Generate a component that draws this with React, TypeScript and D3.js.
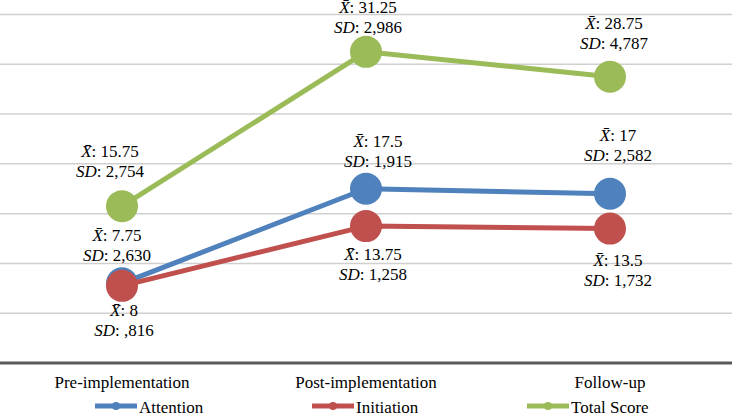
import React, { useEffect, useRef } from 'react';
import * as d3 from 'd3';

const categories = ['Pre-implementation', 'Post-implementation', 'Follow-up'];
const seriesNames = ['Attention', 'Initiation', 'Total Score'];
const attentionMeans = [8, 17.5, 17];
const attentionSDs = [',816', '1,915', '2,582'];
const initiationMeans = [7.75, 13.75, 13.5];
const initiationSDs = ['2,630', '1,258', '1,732'];
const totalMeans = [15.75, 31.25, 28.75];
const totalSDs = ['2,754', '2,986', '4,787'];
const yTicks = [0, 5, 10, 15, 20, 25, 30, 35];

const COLORS = ['#4f81bd', '#c0504d', '#9bbb59'];

// label placement relative to each marker (dx, dy of the first line's baseline)
const labelOffsets = [
  [[2, 33], [12, -42], [8, -53]],
  [[-5, -45], [7, 34], [8, 37]],
  [[-12, -49], [2, -39], [4, -48]],
];

const FONT = "'Liberation Serif', 'Times New Roman', serif";

const App: React.FC = () => {
  const svgRef = useRef<SVGSVGElement>(null);
  const width = 732;
  const height = 414;

  useEffect(() => {
    if (!svgRef.current) return;
    const svg = d3.select(svgRef.current);
    svg.selectAll('*').remove();
    svg.style('font-family', FONT).style('font-size', '17px');

    const means = [attentionMeans, initiationMeans, totalMeans];
    const sds = [attentionSDs, initiationSDs, totalSDs];

    const x = d3.scalePoint<string>()
      .domain(categories)
      .range([0, width])
      .padding(0.5);

    const y = d3.scaleLinear()
      .domain([0, 35])
      .range([363, 14.5]);

    // Grid
    svg.append('g')
      .selectAll('line')
      .data(yTicks.filter(t => t > 0))
      .enter()
      .append('line')
      .attr('x1', 0)
      .attr('x2', width)
      .attr('y1', d => y(d))
      .attr('y2', d => y(d))
      .attr('stroke', '#d0d0d0')
      .attr('stroke-width', 1.5);

    // Baseline axis
    svg.append('line')
      .attr('x1', 0)
      .attr('x2', width)
      .attr('y1', y(0))
      .attr('y2', y(0))
      .attr('stroke', '#595959')
      .attr('stroke-width', 3);

    // Category labels
    svg.append('g')
      .selectAll('text')
      .data(categories)
      .enter()
      .append('text')
      .attr('x', d => x(d) || 0)
      .attr('y', 388)
      .attr('text-anchor', 'middle')
      .attr('fill', '#000')
      .text(d => d);

    // Series
    means.forEach((vals, i) => {
      const pts = categories.map((c, j) => [x(c) || 0, y(vals[j])] as [number, number]);
      svg.append('path')
        .attr('d', d3.line()(pts))
        .attr('fill', 'none')
        .attr('stroke', COLORS[i])
        .attr('stroke-width', 5)
        .attr('stroke-linejoin', 'round');

      svg.append('g')
        .selectAll('circle')
        .data(pts)
        .enter()
        .append('circle')
        .attr('cx', d => d[0])
        .attr('cy', d => d[1])
        .attr('r', 16)
        .attr('fill', COLORS[i]);
    });

    // Data labels
    means.forEach((vals, i) => {
      categories.forEach((c, j) => {
        const [dx, dy] = labelOffsets[i][j];
        const cx = (x(c) || 0) + dx;
        const cy = y(vals[j]) + dy;
        const t = svg.append('text')
          .attr('text-anchor', 'middle')
          .attr('fill', '#000');
        const l1 = t.append('tspan').attr('x', cx).attr('y', cy);
        l1.append('tspan').style('font-style', 'italic').text('X\u0304');
        l1.append('tspan').text(`: ${vals[j]}`);
        const l2 = t.append('tspan').attr('x', cx).attr('y', cy + 20);
        l2.append('tspan').style('font-style', 'italic').text('SD');
        l2.append('tspan').text(`: ${sds[i][j]}`);
      });
    });

    // Legend
    const legendX = [95, 312, 527];
    seriesNames.forEach((name, i) => {
      const g = svg.append('g').attr('transform', `translate(${legendX[i]},406)`);
      g.append('line')
        .attr('x1', 0)
        .attr('x2', 42)
        .attr('stroke', COLORS[i])
        .attr('stroke-width', 5);
      g.append('circle')
        .attr('cx', 21)
        .attr('r', 4)
        .attr('fill', COLORS[i]);
      g.append('text')
        .attr('x', 44)
        .attr('y', 7)
        .attr('fill', '#000')
        .text(name);
    });
  }, []);

  return (
    <svg
      ref={svgRef}
      width={width}
      height={height}
      style={{ position: 'absolute', left: 0, top: 0, background: '#fff' }}
    />
  );
};

export default App;
